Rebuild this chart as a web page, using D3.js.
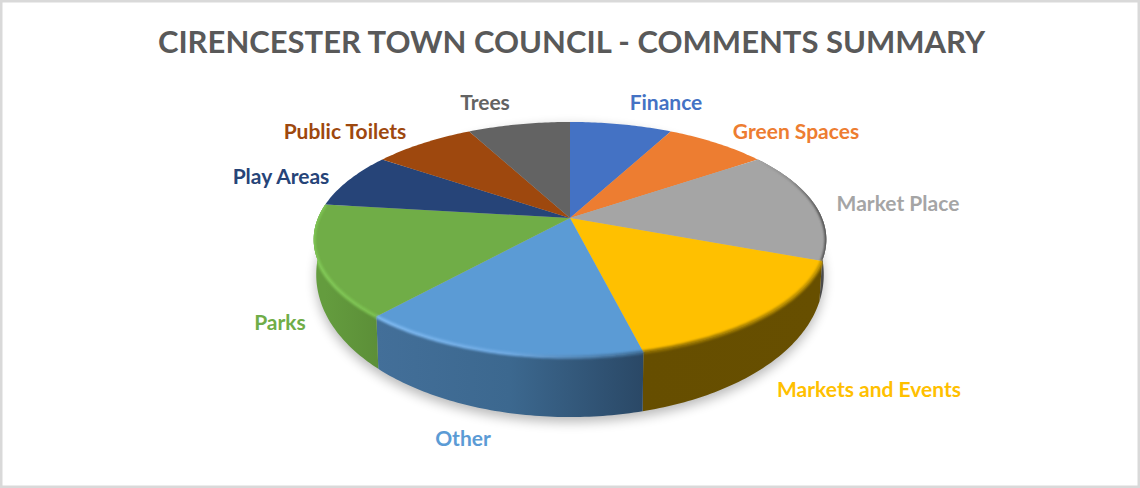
<!DOCTYPE html>
<html>
<head>
<meta charset="utf-8">
<script src="https://cdn.jsdelivr.net/npm/d3@7"></script>
<style>
  html, body { margin: 0; padding: 0; background: #fff; }
  svg { display: block; }
  text { font-family: Lato, "Open Sans", sans-serif; font-weight: 700; }
</style>
</head>
<body>
<svg id="chart" width="1140" height="488"></svg>
<script>
const titleText = "CIRENCESTER TOWN COUNCIL - COMMENTS SUMMARY";
const categories = ["Finance", "Green Spaces", "Market Place", "Markets and Events", "Other", "Parks", "Play Areas", "Public Toilets", "Trees"];
const comments = [1, 1, 2, 2, 2, 2, 1, 1, 1];
const colors = ["#4472c4", "#ed7d31", "#a5a5a5", "#ffc000", "#5b9bd5", "#70ad47", "#264478", "#9e480e", "#636363"];
const labelSpots = [[666, 103], [796, 132], [898, 204], [869, 390], [463, 439], [280, 323], [281, 177], [345, 132], [485, 103]];

// side wall and rim shades, left to right, only for the slices at the front
const wallStops = {
  "Market Place": ["#6a6a6a", "#4a4a4a"],
  "Markets and Events": ["#664e00", "#674f00"],
  "Other": ["#436f99", "#3c688f", "#2a4866"],
  "Parks": ["#649c3e", "#5c8f38"],
};
const rimStops = {
  "Market Place": ["#a5a5a5", "#8c8c8c", "#4f4f4f"],
  "Markets and Events": ["#8f6e00", "#a37d00", "#c09300"],
  "Other": ["#7cb8f0", "#6ea9e2", "#3d6a92"],
  "Parks": ["#80c755", "#7cc150"],
};

const svg = d3.select("#chart");
const defs = svg.append("defs");
const cx = 570, apexY = 218;

// tilted disc: unit circle through a perspective divide
const tilt = 0.183, halfW = 252, halfH = 113.6;
const wallDepth = d3.scaleLinear().domain([-1, 1]).range([60, -1]);
const baseShrink = 0.99;

function topPoint(a) {
  const u = Math.sin(a), v = Math.cos(a), w = 1 + tilt * v;
  return [cx + halfW * u / w, apexY - halfH * v / w];
}
function basePoint(a) {
  const p = topPoint(a);
  return [cx + (p[0] - cx) * baseShrink, p[1] + wallDepth(Math.cos(a))];
}
function sweep(a0, a1, fn) {
  const n = Math.max(2, Math.ceil((a1 - a0) / 0.015));
  return d3.range(n + 1).map((i) => fn(a0 + (a1 - a0) * i / n));
}

const arcs = d3.pie().sort(null).value((d) => d)(comments)
  .map((d, i) => ({ ...d, name: categories[i], color: colors[i], spot: labelSpots[i] }));
const line = d3.line();
const fullTurn = 2 * Math.PI;

function addGradient(id, stops, a0, a1) {
  const xs = [topPoint(a0)[0], topPoint(a1)[0]];
  const g = defs.append("linearGradient").attr("id", id)
    .attr("gradientUnits", "userSpaceOnUse")
    .attr("x1", d3.min(xs)).attr("x2", d3.max(xs)).attr("y1", 0).attr("y2", 0);
  const pos = d3.scaleLinear().domain([0, stops.length - 1]).range([0, 1]);
  stops.forEach((c, i) => g.append("stop").attr("offset", pos(i)).attr("stop-color", c));
}

defs.append("filter").attr("id", "shadowBlur")
  .attr("x", "-10%").attr("y", "-20%").attr("width", "120%").attr("height", "140%")
  .append("feGaussianBlur").attr("stdDeviation", 6);
defs.append("filter").attr("id", "rimBlur")
  .attr("x", "-10%").attr("y", "-20%").attr("width", "120%").attr("height", "140%")
  .append("feGaussianBlur").attr("stdDeviation", 0.9);

const bodyClip = defs.append("clipPath").attr("id", "bodyClip");
bodyClip.append("path").attr("d", line(sweep(0, fullTurn, topPoint)) + "Z");
bodyClip.append("path").attr("d", line(sweep(0, fullTurn, basePoint)) + "Z");

// frame
svg.append("rect").attr("x", 1).attr("y", 1).attr("width", 1138).attr("height", 486)
  .attr("fill", "#fff").attr("stroke", "#d9d9d9").attr("stroke-width", 3);

svg.append("text").attr("x", 571.5).attr("y", 52.5)
  .attr("text-anchor", "middle").attr("font-size", 31).attr("fill", "#595959")
  .text(titleText);

// soft shadow under the base
svg.append("path")
  .attr("d", line(sweep(0, fullTurn, basePoint)) + "Z")
  .attr("transform", "translate(0,5)")
  .attr("fill", "#000").attr("opacity", 0.28).attr("filter", "url(#shadowBlur)");

// walls
arcs.filter((d) => wallStops[d.name]).forEach((d, i) => {
  addGradient("wall" + i, wallStops[d.name], d.startAngle, d.endAngle);
  const pts = sweep(d.startAngle, d.endAngle, topPoint)
    .concat(sweep(d.startAngle, d.endAngle, basePoint).reverse());
  svg.append("path").attr("d", line(pts) + "Z").attr("fill", `url(#wall${i})`);
});

// top face
svg.append("g").selectAll("path").data(arcs).join("path")
  .attr("d", (d) => line([[cx, apexY]].concat(sweep(d.startAngle, d.endAngle, topPoint))) + "Z")
  .attr("fill", (d) => d.color);

// bevel along the front edge
const rimGroup = svg.append("g").attr("clip-path", "url(#bodyClip)");
arcs.filter((d) => rimStops[d.name]).forEach((d, i) => {
  addGradient("rim" + i, rimStops[d.name], d.startAngle, d.endAngle);
  rimGroup.append("path")
    .attr("d", line(sweep(d.startAngle, d.endAngle, topPoint)))
    .attr("fill", "none").attr("stroke", `url(#rim${i})`).attr("stroke-width", 3.5)
    .attr("filter", "url(#rimBlur)");
});

// labels
svg.append("g").selectAll("text").data(arcs).join("text")
  .attr("x", (d) => d.spot[0]).attr("y", (d) => d.spot[1])
  .attr("dy", "0.35em").attr("text-anchor", "middle")
  .attr("font-size", 21).attr("fill", (d) => d.color)
  .text((d) => d.name);
</script>
</body>
</html>
